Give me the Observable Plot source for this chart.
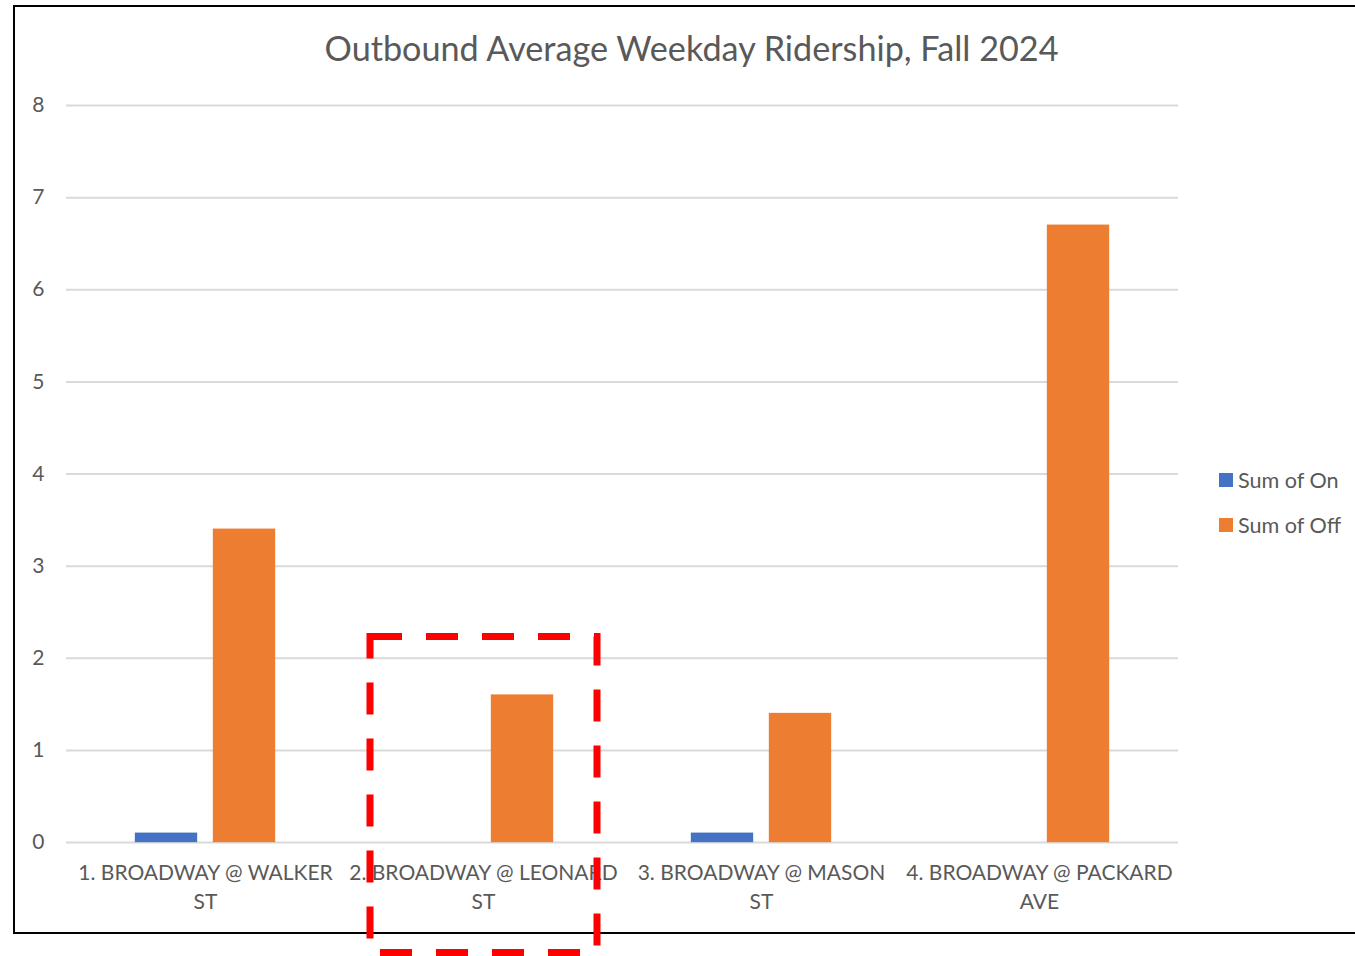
<!DOCTYPE html>
<html>
<head>
<meta charset="utf-8">
<script src="https://cdn.jsdelivr.net/npm/d3@7"></script>
<script src="https://cdn.jsdelivr.net/npm/@observablehq/plot@0.6"></script>
<style>
  body { margin: 0; background: #fff; }
  #wrap { position: relative; width: 1355px; height: 956px; overflow: hidden; font-family: Lato, "Open Sans", sans-serif; color: #595959; }
  #frame { position: absolute; left: 13px; top: 5px; width: 1360px; height: 929px; border: 2px solid #000; box-sizing: border-box; }
  #title { position: absolute; left: 0; top: 26px; width: 1383px; text-align: center; font-size: 34.2px; line-height: 44px; color: #595959; }
  #chart { position: absolute; left: 0; top: 0; }
  .leg { position: absolute; left: 1219px; font-size: 21.6px; line-height: 26px; display: flex; align-items: center; color: #595959; white-space: nowrap; }
  .leg span.sw { display: inline-block; width: 14px; height: 14px; margin-right: 5px; }
  #annot { position: absolute; left: 0; top: 0; pointer-events: none; }
</style>
</head>
<body>
<div id="wrap">
  <div id="frame"></div>
  <div id="chart"></div>
  <div id="title"></div>
  <div id="legend"></div>
  <svg id="annot" width="1355" height="956">
    <rect x="370" y="636.5" width="227" height="316" fill="none" stroke="#ff0000" stroke-width="7" stroke-dasharray="32 24"></rect>
  </svg>
</div>
<script>
const title = "Outbound Average Weekday Ridership, Fall 2024";
const stops = ["1. BROADWAY @ WALKER ST", "2. BROADWAY @ LEONARD ST", "3. BROADWAY @ MASON ST", "4. BROADWAY @ PACKARD AVE"];
const series = ["Sum of On", "Sum of Off"];
const onValues = [0.1, 0, 0.1, 0];
const offValues = [3.4, 1.6, 1.4, 6.7];
const colors = ["#4472C4", "#ED7D31"];
const yTicks = [0, 1, 2, 3, 4, 5, 6, 7, 8];

const data = [];
stops.forEach((s, i) => {
  data.push({stop: s, series: series[0], value: onValues[i]});
  data.push({stop: s, series: series[1], value: offValues[i]});
});

document.getElementById("title").textContent = title;

const wrapLabel = (s) => { const k = s.lastIndexOf(" "); return s.slice(0, k) + "\n" + s.slice(k + 1); };

const plot = Plot.plot({
  width: 1355,
  height: 956,
  marginLeft: 66,
  marginRight: 177,
  marginTop: 105,
  marginBottom: 114,
  style: { fontFamily: "Lato, 'Open Sans', sans-serif", background: "transparent", color: "#595959" },
  fx: { domain: stops, padding: 0, label: null },
  x: { domain: series, paddingInner: 0.2, paddingOuter: 0.87, axis: null },
  y: { domain: [0, 8], axis: null },
  color: { domain: series, range: colors },
  marks: [
    Plot.gridY(yTicks, { stroke: "#d9d9d9", strokeOpacity: 1, strokeWidth: 2 }),
    Plot.barY(data, { fx: "stop", x: "series", y: "value", fill: "series", stroke: "series", strokeOpacity: 0.35, strokeWidth: 1 }),
    Plot.axisY(yTicks, { tickSize: 0, tickPadding: 22, fontSize: 21, fill: "#595959", label: null, tickFormat: (d) => String(d), facetAnchor: "left" }),
    Plot.axisFx({ anchor: "bottom", tickSize: 0, tickPadding: 17, fontSize: 21, lineHeight: 1.38, fill: "#595959", label: null, tickFormat: wrapLabel })
  ]
});
document.getElementById("chart").appendChild(plot);

const legend = document.getElementById("legend");
series.forEach((s, i) => {
  const d = document.createElement("div");
  d.className = "leg";
  d.style.top = (467 + i * 45) + "px";
  const sw = document.createElement("span");
  sw.className = "sw";
  sw.style.background = colors[i];
  d.appendChild(sw);
  d.appendChild(document.createTextNode(s));
  legend.appendChild(d);
});
</script>
</body>
</html>
